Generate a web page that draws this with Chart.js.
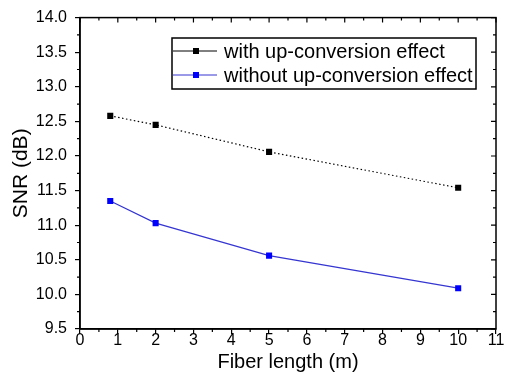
<!DOCTYPE html>
<html>
<head>
<meta charset="utf-8">
<script src="https://cdn.jsdelivr.net/npm/chart.js@4.4.1/dist/chart.umd.min.js"></script>
<style>
  html, body { margin: 0; padding: 0; background: #fff; }
  #wrap { width: 506px; height: 383px; }
</style>
</head>
<body>
<div id="wrap"><canvas id="snr-chart" width="506" height="383"></canvas></div>
<script>
// Fiber length (m)
const fiberLength = [0.8, 2, 5, 10];
// SNR (dB)
const snrWithUpConversion = [12.58, 12.45, 12.06, 11.54];
const snrWithoutUpConversion = [11.35, 11.03, 10.56, 10.09];
const seriesLabels = ['with up-conversion effect', 'without up-conversion effect'];
const xTicks = [0, 1, 2, 3, 4, 5, 6, 7, 8, 9, 10, 11];
const yTicks = [9.5, 10.0, 10.5, 11.0, 11.5, 12.0, 12.5, 13.0, 13.5, 14.0];

const FONT = "'Liberation Sans', Arial, sans-serif";

function toPoints(xs, ys) {
    return xs.map(function(x, i) { return { x: x, y: ys[i] }; });
}

// Frame, top/right inward ticks, minor ticks and legend box
const framePlugin = {
    id: 'frame',
    afterDraw: function(chart) {
        const ctx = chart.ctx;
        const area = chart.chartArea;
        const xs = chart.scales.x;
        const ys = chart.scales.y;
        ctx.save();
        ctx.strokeStyle = '#000';
        ctx.lineWidth = 1.5;
        ctx.strokeRect(area.left, area.top, area.right - area.left, area.bottom - area.top);

        ctx.lineWidth = 1.2;
        ctx.beginPath();
        // x axis ticks
        for (let v = 0; v <= 11.001; v += 0.5) {
            const px = xs.getPixelForValue(v);
            const major = Math.abs(v - Math.round(v)) < 0.01;
            const len = major ? 5 : 3;
            ctx.moveTo(px, area.top);
            ctx.lineTo(px, area.top + len);
            if (!major) {
                ctx.moveTo(px, area.bottom);
                ctx.lineTo(px, area.bottom + 3);
            }
        }
        // y axis ticks
        for (let v = 9.5; v <= 14.001; v += 0.25) {
            const py = ys.getPixelForValue(v);
            const major = Math.abs(v * 2 - Math.round(v * 2)) < 0.01;
            const len = major ? 5 : 3;
            ctx.moveTo(area.right, py);
            ctx.lineTo(area.right - len, py);
            if (!major) {
                ctx.moveTo(area.left, py);
                ctx.lineTo(area.left - 3, py);
            }
        }
        ctx.stroke();

        // legend
        const box = { left: 172, top: 38, right: 476, bottom: 89 };
        ctx.lineWidth = 1.5;
        ctx.strokeRect(box.left, box.top, box.right - box.left, box.bottom - box.top);
        const rows = [51, 75];
        ctx.font = '20px ' + FONT;
        ctx.textBaseline = 'middle';
        chart.data.datasets.forEach(function(ds, i) {
            const y = rows[i];
            ctx.strokeStyle = ds.borderColor;
            ctx.lineWidth = 1;
            ctx.setLineDash([]);
            ctx.beginPath();
            ctx.moveTo(box.left + 1, y);
            ctx.lineTo(box.left + 45, y);
            ctx.stroke();
            ctx.fillStyle = ds.pointBackgroundColor;
            ctx.fillRect(box.left + 21, y - 3, 6, 6);
            ctx.fillStyle = '#000';
            ctx.fillText(ds.label, box.left + 52, y + 1);
        });
        ctx.restore();
    }
};

new Chart(document.getElementById('snr-chart'), {
    type: 'line',
    data: {
        datasets: [
            {
                label: seriesLabels[0],
                data: toPoints(fiberLength, snrWithUpConversion),
                borderColor: '#000',
                borderWidth: 1.2,
                borderDash: [1.5, 2.5],
                pointStyle: 'rect',
                pointRadius: 4.3,
                pointBackgroundColor: '#000',
                pointBorderColor: '#000',
                pointBorderWidth: 0,
                tension: 0
            },
            {
                label: seriesLabels[1],
                data: toPoints(fiberLength, snrWithoutUpConversion),
                borderColor: '#3535d2',
                borderWidth: 1.2,
                pointStyle: 'rect',
                pointRadius: 4.3,
                pointBackgroundColor: '#0000ff',
                pointBorderColor: '#0000ff',
                pointBorderWidth: 0,
                tension: 0
            }
        ]
    },
    options: {
        responsive: false,
        animation: false,
        layout: {
            padding: { top: 16, right: 10, left: 0, bottom: 0 }
        },
        plugins: {
            legend: { display: false },
            tooltip: { enabled: false }
        },
        scales: {
            x: {
                type: 'linear',
                min: 0,
                max: 11,
                afterFit: function(scale) { scale.height = 54; },
                afterBuildTicks: function(scale) {
                    scale.ticks = xTicks.map(function(v) { return { value: v }; });
                },
                ticks: {
                    color: '#000',
                    font: { family: FONT, size: 16 },
                    padding: -3,
                    maxRotation: 0,
                    callback: function(v) { return String(v); }
                },
                grid: {
                    drawOnChartArea: false,
                    drawTicks: true,
                    tickLength: 5,
                    color: '#000',
                    lineWidth: 1.2
                },
                border: { display: true, color: '#000', width: 1.5 },
                title: {
                    display: true,
                    text: 'Fiber length (m)',
                    color: '#000',
                    font: { family: FONT, size: 20 },
                    padding: { top: 0, bottom: 9 }
                }
            },
            y: {
                type: 'linear',
                min: 9.5,
                max: 14,
                afterFit: function(scale) { scale.width = 80; },
                afterBuildTicks: function(scale) {
                    scale.ticks = yTicks.map(function(v) { return { value: v }; });
                },
                ticks: {
                    color: '#000',
                    font: { family: FONT, size: 16 },
                    padding: 8,
                    callback: function(v) { return Number(v).toFixed(1); }
                },
                grid: {
                    drawOnChartArea: false,
                    drawTicks: true,
                    tickLength: 5,
                    color: '#000',
                    lineWidth: 1.2
                },
                border: { display: true, color: '#000', width: 1.5 },
                title: {
                    display: true,
                    text: 'SNR (dB)',
                    color: '#000',
                    font: { family: FONT, size: 21 },
                    padding: { top: 9, bottom: 0 }
                }
            }
        }
    },
    plugins: [framePlugin]
});
</script>
</body>
</html>
